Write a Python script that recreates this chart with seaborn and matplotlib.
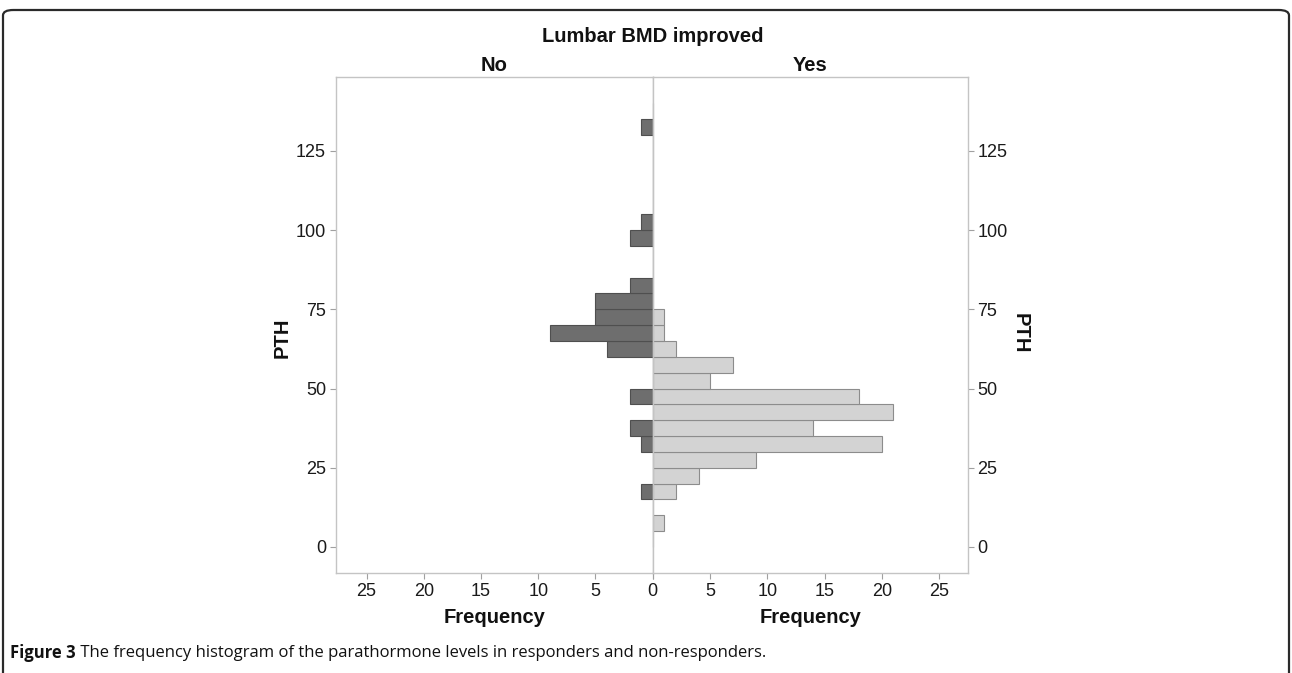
import matplotlib
matplotlib.use("Agg")
import matplotlib.pyplot as plt
import seaborn as sns
import pandas as pd
import numpy as np
from matplotlib.patches import FancyBboxPatch

# ---------------- data ----------------
pth_bin_mid = [7.5, 12.5, 17.5, 22.5, 27.5, 32.5, 37.5, 42.5, 47.5, 52.5,
               57.5, 62.5, 67.5, 72.5, 77.5, 82.5, 87.5, 92.5, 97.5, 102.5,
               107.5, 112.5, 117.5, 122.5, 127.5, 132.5]
no_counts = [0, 0, 1, 0, 0, 1, 2, 0, 2, 0,
             0, 4, 9, 5, 5, 2, 0, 0, 2, 1,
             0, 0, 0, 0, 0, 1]
yes_counts = [1, 0, 2, 4, 9, 20, 14, 21, 18, 5,
              7, 2, 1, 1, 0, 0, 0, 0, 0, 0,
              0, 0, 0, 0, 0, 0]
groups = ["No", "Yes"]
y_ticks = [0, 25, 50, 75, 100, 125]
x_ticks = [0, 5, 10, 15, 20, 25]
title = "Lumbar BMD improved"
caption_bold = "Figure 3"
caption_rest = " The frequency histogram of the parathormone levels in responders and non-responders."

df = pd.DataFrame({
    "PTH": pth_bin_mid * 2,
    "count": no_counts + yes_counts,
    "improved": [groups[0]] * len(pth_bin_mid) + [groups[1]] * len(pth_bin_mid),
})
df = df[df["count"] > 0]
bin_edges = [float(v) for v in np.arange(0, 145, 5)]

# ---------------- style ----------------
sns.set_theme(style="white")
plt.rcParams["font.family"] = ["Liberation Sans", "DejaVu Sans"]

W, H = 1292, 673
fig = plt.figure(figsize=(W / 100, H / 100), dpi=100)
fig.patch.set_facecolor("white")

def fx(px):
    return px / W

def fy(py):
    return 1 - py / H

x_left, x_mid, x_right = 335.7, 652.7, 967.7
y_top, y_bot = 77.0, 573.3

axL = fig.add_axes([fx(x_left), fy(y_bot), (x_mid - x_left) / W, (y_bot - y_top) / H])
axR = fig.add_axes([fx(x_mid), fy(y_bot), (x_right - x_mid) / W, (y_bot - y_top) / H], sharey=axL)

dark_fill, dark_edge = "#6e6e6e", "#4f4f4f"
light_fill, light_edge = "#d3d3d3", "#8c8c8c"
frame_col = "#c4c4c4"

sns.histplot(data=df[df["improved"] == "No"], y="PTH", weights="count", bins=bin_edges,
             ax=axL, color=dark_fill, edgecolor=dark_edge, linewidth=0.8, alpha=1)
sns.histplot(data=df[df["improved"] == "Yes"], y="PTH", weights="count", bins=bin_edges,
             ax=axR, color=light_fill, edgecolor=light_edge, linewidth=0.8, alpha=1)

axL.set_xlim(27.7, 0)
axR.set_xlim(0, 27.5)
axL.set_ylim(-8.3, 148.3)

for ax in (axL, axR):
    for s in ax.spines.values():
        s.set_color(frame_col)
        s.set_linewidth(1.0)
    ax.set_xticks(x_ticks)
    ax.tick_params(axis="both", colors="#a0a0a0", labelcolor="#1a1a1a",
                   labelsize=13, length=4, width=0.8, pad=3)
    ax.tick_params(axis="x", bottom=True)
    ax.grid(False)

axL.set_yticks(y_ticks)
axL.tick_params(axis="y", left=True, labelleft=True, right=False)
axR.tick_params(axis="y", left=False, labelleft=False, right=True, labelright=True)
axR.set_xticklabels([""] + [str(t) for t in x_ticks[1:]])
axL.set_xticklabels([str(t) for t in x_ticks])

lab_kw = dict(fontsize=14.5, fontweight="bold", color="#111111")
axL.set_xlabel("Frequency", labelpad=6, **lab_kw)
axR.set_xlabel("Frequency", labelpad=6, **lab_kw)

axL.set_ylabel("PTH", **lab_kw)
axL.yaxis.label.set_va("center")
axL.yaxis.set_label_coords((282 - x_left) / (x_mid - x_left), (y_bot - 338) / (y_bot - y_top))

axR.yaxis.set_label_position("right")
axR.set_ylabel("PTH", rotation=270, **lab_kw)
axR.yaxis.label.set_va("center")
axR.yaxis.set_label_coords((1020 - x_mid) / (x_right - x_mid), (y_bot - 333) / (y_bot - y_top))

axL.set_title(groups[0], pad=4, **lab_kw)
axR.set_title(groups[1], pad=4, **lab_kw)
fig.text(fx(x_mid), fy(36), title, ha="center", va="center", **lab_kw)

# ---------------- caption & border ----------------
border = FancyBboxPatch((fx(3), fy(H + 20)), fx(1289 - 3), (H + 20 - 10) / H,
                        boxstyle="round,pad=0,rounding_size=0.008",
                        transform=fig.transFigure, facecolor="none",
                        edgecolor="#2a2a2a", linewidth=1.6, clip_on=False)
fig.add_artist(border)

cap_fs = 12.0
t1 = fig.text(fx(10), fy(653), caption_bold, ha="left", va="center",
              fontsize=cap_fs, fontweight="bold", color="#111111",
              family=["Open Sans", "DejaVu Sans"])
fig.canvas.draw()
r = fig.canvas.get_renderer()
bb = t1.get_window_extent(r)
t2 = fig.text(bb.x1 / W, fy(653), caption_rest, ha="left", va="center",
              fontsize=cap_fs, color="#111111", family=["Open Sans", "DejaVu Sans"])

fig.savefig("out.png", dpi=100, facecolor="white")
